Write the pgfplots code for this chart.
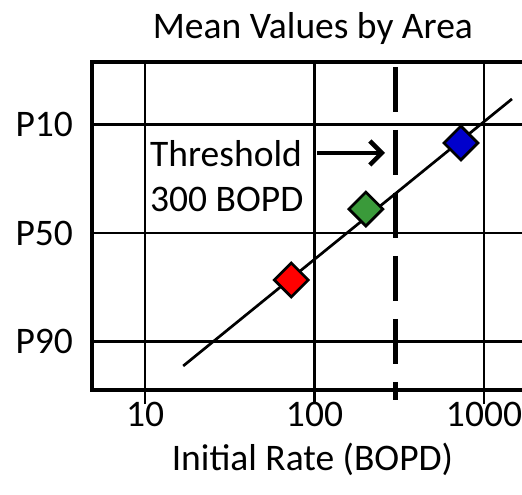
\documentclass[border=0pt]{standalone}
\usepackage{fontspec}
\setmainfont{Carlito}
\usepackage{pgfplots}
\pgfplotsset{compat=1.18}
\usetikzlibrary{arrows.meta}
\definecolor{mred}{HTML}{FF0000}
\definecolor{mgreen}{HTML}{3A9A3A}
\definecolor{mblue}{HTML}{0000CC}

\begin{document}
\begin{tikzpicture}[font=\fontsize{37.5}{44}\selectfont]
\begin{axis}[
    at={(0,0)}, anchor=south west,
    scale only axis,
    width=434pt, height=328pt,
    xmode=log,
    xmin=4.867, xmax=1769.6,
    ymin=-1.855, ymax=2.020,
    xtick={10,100,1000},
    xticklabels={10,100,1000},
    ytick={-1.2816,0,1.2816},
    yticklabels={P90,P50,P10},
    xminorticks=false,
    xtick pos=left,
    tick align=outside,
    major tick length=14pt,
    x tick style={black, line width=2.7pt},
    y tick style={draw=none},
    grid=major,
    grid style={black, line width=2.7pt},
    axis line style={black, line width=4.5pt},
    xticklabel style={anchor=base, yshift=-22pt},
    yticklabel style={anchor=east, inner sep=0pt, xshift=-5pt},
    title={Mean Values by Area},
    title style={at={(0.509,1)}, anchor=base, yshift=17pt},
    xlabel={Initial Rate (BOPD)},
    xlabel style={at={(0.508,0)}, anchor=base, yshift=-80pt},
    clip=false,
]
% fitted trend line
\addplot[black, line width=2.7pt] coordinates {(16.8,-1.571) (1462,1.583)};
% threshold at 300 BOPD
\addplot[black, line width=4.5pt, dash pattern=on 45pt off 18pt] coordinates {(300,1.961) (300,-1.973)};
% area means
\addplot[only marks, mark=square*, mark size=12pt, mark options={rotate=45, fill=mred, draw=black, line width=2.7pt}] coordinates {(73,-0.555)};
\addplot[only marks, mark=square*, mark size=12pt, mark options={rotate=45, fill=mgreen, draw=black, line width=2.7pt}] coordinates {(201,0.283)};
\addplot[only marks, mark=square*, mark size=12pt, mark options={rotate=45, fill=mblue, draw=black, line width=2.7pt}] coordinates {(731,1.063)};
\node[anchor=base west, inner sep=0pt] at (axis cs:10.7,0.780) {Threshold};
\node[anchor=base west, inner sep=0pt] at (axis cs:10.7,0.248) {300 BOPD};
\draw[line width=4.5pt, -{Straight Barb[length=12pt,width=24pt]}] (axis cs:103.4,0.945) -- (axis cs:260.6,0.945);
\end{axis}
\pgfresetboundingbox
\useasboundingbox (-92pt,-105pt) rectangle (430pt,390pt);
\end{tikzpicture}
\end{document}
